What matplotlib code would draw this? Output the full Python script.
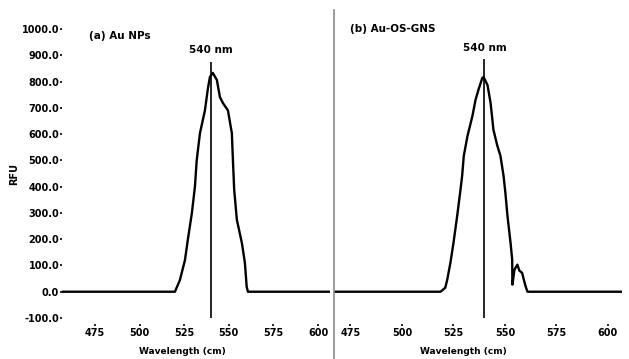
"""Fluorescence spectra of Au NPs and Au-OS-GNS (two panels)."""

import matplotlib
matplotlib.use("Agg")
import matplotlib.pyplot as plt
from matplotlib.lines import Line2D

# Panel (a) Au NPs
wl_a = [456.5, 519.8, 522.6, 525.4, 527.0, 529.3, 531.0, 532.0, 533.8, 536.6,
        538.3, 539.4, 541.0, 543.3, 545.0, 546.7, 549.5, 551.7, 552.3, 553.0,
        554.5, 557.3, 559.0, 560.0, 560.7, 606.7]
rfu_a = [0, 0, 45, 120, 197, 300, 400, 500, 603, 690,
         775, 817, 833, 806, 741, 718, 690, 603, 500, 388,
         274, 186, 110, 19, 0, 0]

# Panel (b) Au-OS-GNS
wl_b = [467.0, 518.7, 521.0, 522.0, 523.5, 525.0, 526.8, 528.4, 529.2, 530.0,
        531.8, 534.2, 535.7, 537.1, 539.0, 539.6, 541.5, 543.0, 544.4, 546.3,
        547.8, 549.3, 550.2, 551.2, 552.7, 553.5, 553.6, 554.6, 556.0, 557.0,
        558.3, 559.9, 560.9, 606.8]
rfu_b = [0, 0, 15, 47, 110, 186, 289, 388, 441, 517,
         593, 669, 730, 768, 814, 817, 787, 719, 616, 555,
         517, 441, 376, 289, 186, 122, 27, 84, 103, 80,
         72, 23, 0, 0]

x_ticks = [475, 500, 525, 550, 575, 600]
y_ticks = [-100, 0, 100, 200, 300, 400, 500, 600, 700, 800, 900, 1000]
peak = 540

FONT = ["Liberation Sans Narrow", "DejaVu Sans"]
plt.rcParams["font.family"] = FONT
plt.rcParams["font.weight"] = "bold"

W, H = 629, 359
fig = plt.figure(figsize=(W / 100, H / 100), dpi=100)

y0 = (H - 318) / H
yh = (318 - 29) / H
ax_a = fig.add_axes([62 / W, y0, (330 - 62) / W, yh])
ax_b = fig.add_axes([334 / W, y0, (622 - 334) / W, yh])

panels = [
    (ax_a, wl_a, rfu_a, (456.5, 606.7), 875),
    (ax_b, wl_b, rfu_b, (467.0, 606.8), 885),
]
for ax, wl, rfu, xlim, vtop in panels:
    ax.plot(wl, rfu, color="black", lw=1.7, solid_joinstyle="round")
    ax.vlines(peak, -100, vtop, color="black", lw=1.2)
    ax.text(peak, vtop + 25, f"{peak} nm", ha="center", va="bottom",
            fontsize=7.5, fontweight="bold")
    ax.set_xlim(*xlim)
    ax.set_ylim(-100, 1000)
    ax.set_xticks(x_ticks)
    ax.set_xticklabels([str(t) for t in x_ticks])
    for s in ax.spines.values():
        s.set_visible(False)
    ax.spines["bottom"].set_position(("outward", 4))
    ax.tick_params(axis="x", length=1.5, width=1.2, pad=1.5, labelsize=7)
    ax.set_xlabel("Wavelength (cm)", fontsize=6.5, fontweight="bold")
    ax.xaxis.set_label_coords(0.448, -0.1)

ax_a.set_yticks(y_ticks)
ax_a.set_yticklabels([f"{t:.1f}" for t in y_ticks])
ax_a.tick_params(axis="y", length=1.5, width=1.2, pad=0.5, labelsize=7)
ax_a.set_ylabel("RFU", fontsize=7, fontweight="bold", labelpad=2)
ax_b.set_yticks([])

ax_a.text(0.1, 0.975, "(a) Au NPs", transform=ax_a.transAxes,
          fontsize=7.5, fontweight="bold", va="center")
ax_b.text(0.055, 1.0, "(b) Au-OS-GNS", transform=ax_b.transAxes,
          fontsize=7.5, fontweight="bold", va="center")

# divider between panels
fig.add_artist(Line2D([334 / W, 334 / W], [0, (H - 10) / H],
                      transform=fig.transFigure, color="#8a8a8a", lw=1.2))

fig.savefig("out.png", dpi=100)
